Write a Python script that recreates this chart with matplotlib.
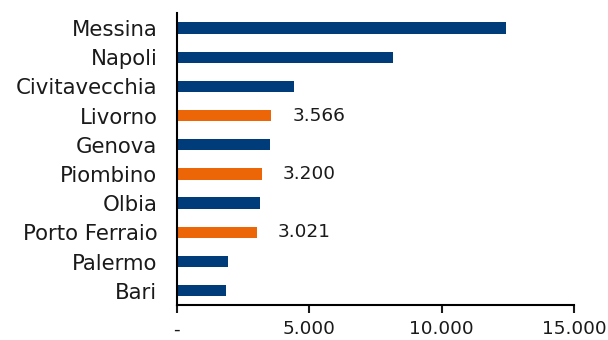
import matplotlib.pyplot as plt
from matplotlib.ticker import FuncFormatter

# porti, dal basso verso l'alto
porti = ['Bari', 'Palermo', 'Porto Ferraio', 'Olbia', 'Piombino',
         'Genova', 'Livorno', 'Civitavecchia', 'Napoli', 'Messina']
valori = [1850, 1930, 3021, 3130, 3200, 3500, 3566, 4420, 8150, 12420]
evidenziati = ['Porto Ferraio', 'Piombino', 'Livorno']

blu = '#003b7a'
arancio = '#ec6608'

plt.rcParams['font.family'] = ['DejaVu Sans']
plt.rcParams['text.color'] = '#1a1a1a'
plt.rcParams['xtick.color'] = '#1a1a1a'
plt.rcParams['ytick.color'] = '#1a1a1a'

fig = plt.figure(figsize=(6.08, 3.4), dpi=100)
ax = fig.add_axes([0.291, 0.103, 0.653, 0.859])

colori = [arancio if p in evidenziati else blu for p in porti]
ax.barh(porti, valori, height=0.39, color=colori)

# etichette solo sulle barre arancioni
for i, (p, v) in enumerate(zip(porti, valori)):
    if p in evidenziati:
        ax.annotate(f'{v:,}'.replace(',', '.'), (v, i), xytext=(15, 0),
                    textcoords='offset points', va='center', ha='left',
                    fontsize=13.3)

ax.set_xlim(0, 15000)
ax.set_ylim(-0.49, 9.52)
ax.set_xticks([0, 5000, 10000, 15000])
ax.xaxis.set_major_formatter(FuncFormatter(
    lambda x, pos: '-' if x == 0 else f'{int(x):,}'.replace(',', '.')))

for s in ['top', 'right']:
    ax.spines[s].set_visible(False)
ax.spines['left'].set_linewidth(1.5)
ax.spines['bottom'].set_linewidth(1.5)
ax.tick_params(axis='x', length=6, width=1.5, labelsize=13.3, pad=5)
ax.tick_params(axis='y', length=0, labelsize=15.3, pad=14)

fig.savefig('out.png', dpi=100)
